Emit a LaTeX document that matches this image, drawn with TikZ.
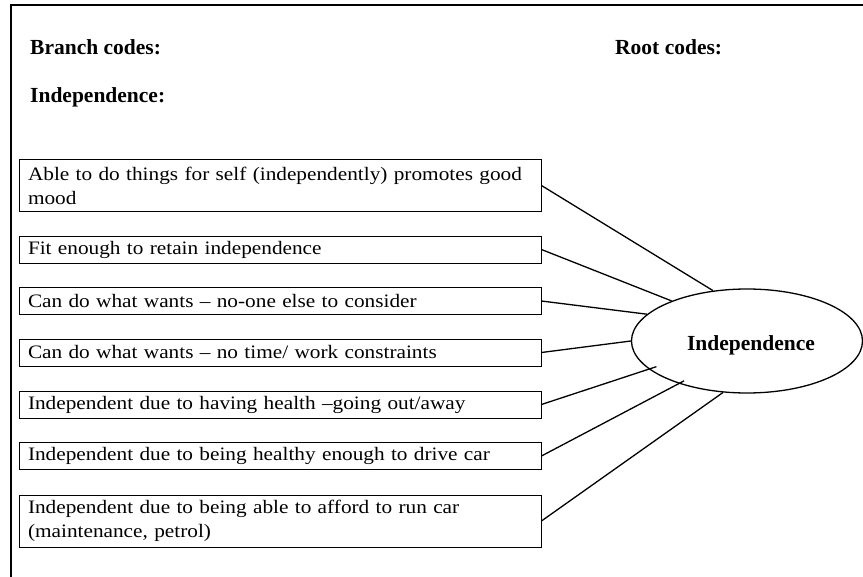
\documentclass[tikz,border=0pt]{standalone}
\usepackage{fontspec}
\setmainfont{Liberation Serif}
\newfontfamily\branchfont[FakeStretch=1.12]{Liberation Serif}
\usetikzlibrary{shapes.geometric}
\begin{document}
\begin{tikzpicture}[x=1pt,y=-1pt,
	branche/.style={draw, line width=0.9pt, text width=504pt, align=left, inner xsep=9pt, inner ysep=2pt, minimum height=27pt, font=\branchfont\fontsize{19}{24}\selectfont},
	titre/.style={anchor=base west, inner sep=0pt, font=\fontsize{21.5}{26}\selectfont\bfseries},
	lien/.style={line width=1.3pt}]
	\useasboundingbox (0,0) rectangle (863,577);
	% le cadre
	\draw[line width=1.4pt] (11,577) -- (11,5) -- (863,5);
	% les titres
	\node[titre] (branch) at (30,55) {Branch codes:};
	\node[titre] (root) at (615,55) {Root codes:};
	\node[titre] (theme) at (30,103) {Independence:};
	% les branches
	\node[branche, minimum height=52pt] (b1) at (280,185.5) {Able to do things for self (independently) promotes good\\mood};
	\node[branche] (b2) at (280,249.5) {Fit enough to retain independence};
	\node[branche] (b3) at (280,301) {Can do what wants – no-one else to consider};
	\node[branche] (b4) at (280,352.5) {Can do what wants – no time/ work constraints};
	\node[branche] (b5) at (280,404.5) {Independent due to having health –going out/away};
	\node[branche] (b6) at (280,456) {Independent due to being healthy enough to drive car};
	\node[branche, minimum height=52pt] (b7) at (280,521) {Independent due to being able to afford to run car\\(maintenance, petrol)};
	% la racine
	\node[draw, ellipse, line width=1.3pt, minimum width=231pt, minimum height=104pt, inner sep=0pt, text height=20pt, text depth=0pt,
		font=\fontsize{21.5}{26}\selectfont\bfseries] (indep) at (747,341) {\hspace*{8pt}Independence};
	% les liens
	\draw[lien] (b1.east) -- (indep.124.7);
	\draw[lien] (b2.east) -- (indep.152.5);
	\draw[lien] (b3.east) -- (indep.165.7);
	\draw[lien] (b4.east) -- (indep.180);
	\draw[lien, shorten >=-8pt] (b5.east) -- (indep.196.3);
	\draw[lien, shorten >=-6pt] (b6.east) -- (indep.212);
	\draw[lien] (b7.east) -- (indep.245.2);
\end{tikzpicture}
\end{document}
